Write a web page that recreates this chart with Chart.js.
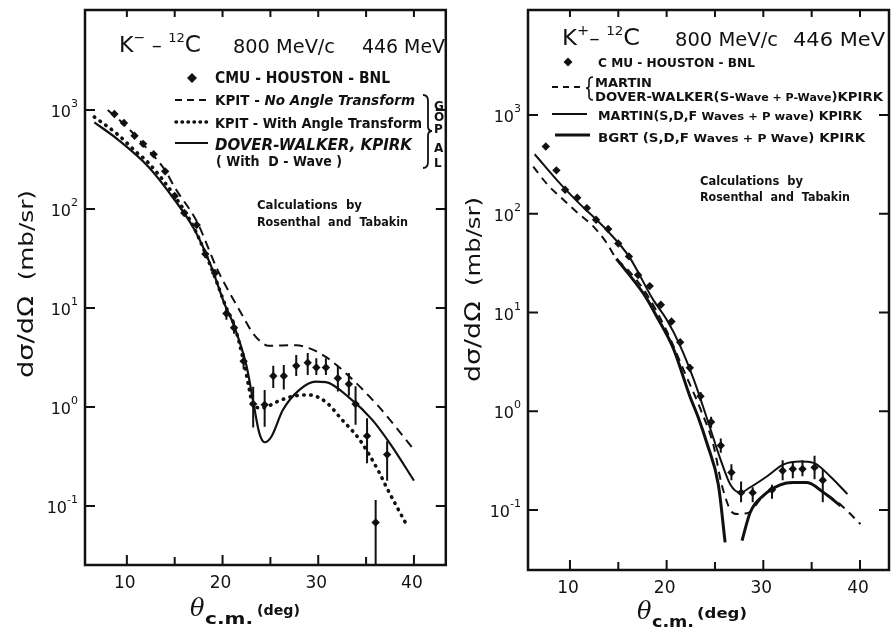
<!DOCTYPE html>
<html>
<head>
<meta charset="utf-8">
<script src="https://cdn.jsdelivr.net/npm/chart.js@4.4.0/dist/chart.umd.min.js"></script>
<style>
  html, body { margin: 0; padding: 0; background: #fff; }
  #wrap { position: relative; width: 895px; height: 629px; overflow: hidden; }
  #left { position: absolute; left: 0; top: 0; }
  #right { position: absolute; left: 450px; top: 0; }
</style>
</head>
<body>
<div id="wrap">
  <canvas id="left" width="450" height="629"></canvas>
  <canvas id="right" width="445" height="629"></canvas>
</div>
<script>
// ---- K- 12C : CMU-HOUSTON-BNL data (deg, mb/sr)
var leftAngle = [8.7, 9.7, 10.8, 11.7, 12.8, 14.0, 15.0, 16.0, 17.3, 18.2, 19.2, 20.4, 21.2, 22.2, 23.2, 24.4, 25.3, 26.4, 27.7, 28.9, 29.8, 30.8, 32.05, 33.2, 33.9, 35.1, 36.0, 37.2];
var leftSigma = [910, 740, 550, 455, 357, 240, 135, 91, 69, 35, 22.5, 8.8, 6.3, 2.9, 1.07, 1.05, 2.05, 2.05, 2.6, 2.8, 2.5, 2.5, 1.95, 1.7, 1.07, 0.51, 0.068, 0.33];
var leftErrLo = [860, 700, 520, 430, 337, 225, 126, 85, 64, 32, 20.5, 7.6, 5.5, 2.4, 0.62, 0.63, 1.55, 1.5, 2.05, 2.1, 2.1, 2.1, 1.43, 1.3, 0.66, 0.27, 0.02, 0.18];
var leftErrHi = [960, 780, 580, 480, 377, 255, 144, 97, 74, 38, 24.5, 10.2, 7.2, 3.5, 1.6, 1.48, 2.6, 2.65, 3.35, 3.5, 3.1, 3.1, 2.6, 2.2, 1.62, 0.77, 0.115, 0.45];

// KPIT - no angle transform (dashed)
var leftNoTransAngle = [8.0, 9.7, 11.7, 14.0, 15.0, 17.3, 19.5, 21.9, 23.2, 24.2, 24.8, 27.7, 29.1, 30.8, 33.2, 36.35, 40.0];
var leftNoTransSigma = [1000, 720, 450, 245, 165, 75, 24, 9, 5.5, 4.4, 4.15, 4.2, 3.9, 3.2, 2.05, 1.0, 0.37];
// KPIT - with angle transform (dotted)
var leftWithTransAngle = [6.6, 9.0, 11.2, 12.0, 15.0, 17.0, 19.0, 20.4, 21.2, 22.2, 22.8, 23.15, 24.0, 24.6, 25.6, 27.7, 29.1, 30.8, 32.5, 34.3, 36.35, 37.05, 39.1];
var leftWithTransSigma = [850, 570, 360, 310, 135, 65, 23, 10, 6.8, 2.9, 1.5, 1.05, 0.98, 1.0, 1.12, 1.3, 1.32, 1.12, 0.74, 0.47, 0.22, 0.16, 0.068];
// Dover-Walker, KPIRK with D-wave (solid)
var leftDoverAngle = [6.6, 9.1, 12.2, 15.0, 17.1, 18.8, 20.2, 21.1, 22.5, 23.3, 23.85, 24.4, 25.1, 26.3, 28.0, 29.75, 30.8, 33.2, 35.65, 37.7, 40.0];
var leftDoverSigma = [750, 500, 270, 123, 61, 26.5, 11, 7, 2.6, 1.0, 0.54, 0.44, 0.5, 0.93, 1.48, 1.8, 1.78, 1.25, 0.74, 0.40, 0.18];

// ---- K+ 12C data
var rightAngle = [7.5, 8.6, 9.5, 10.75, 11.75, 12.7, 13.95, 15.0, 16.1, 17.05, 18.25, 19.4, 20.5, 21.4, 22.4, 23.5, 24.6, 25.6, 26.7, 27.7, 28.9, 30.9, 32.0, 33.05, 34.05, 35.3, 36.15];
var rightSigma = [480, 275, 175, 145, 114, 87, 70, 50, 37, 24, 18.5, 12, 8.1, 5.0, 2.75, 1.42, 0.78, 0.45, 0.24, 0.15, 0.15, 0.16, 0.25, 0.26, 0.26, 0.27, 0.20];
var rightErrLo = [455, 262, 166, 138, 108, 83, 66, 47, 35, 22.7, 17.5, 11.3, 7.6, 4.6, 2.5, 1.27, 0.68, 0.38, 0.20, 0.12, 0.12, 0.13, 0.20, 0.21, 0.22, 0.205, 0.12];
var rightErrHi = [505, 288, 184, 152, 120, 91, 74, 53, 39, 25.3, 19.5, 12.7, 8.6, 5.4, 3.0, 1.57, 0.88, 0.53, 0.29, 0.195, 0.17, 0.18, 0.32, 0.31, 0.32, 0.355, 0.26];

// Martin / Dover-Walker (S-wave + P-wave) KPIRK (dashed)
var rightSPAngle = [6.2, 7.7, 9.1, 10.8, 12.55, 13.8, 14.8, 16.0, 18.0, 20.0, 22.0, 23.5, 24.85, 25.7, 26.6, 27.3, 28.0, 28.65, 30.0, 31.75, 33.1, 34.5, 36.25, 38.0, 40.05];
var rightSPSigma = [300, 196, 145, 102, 72, 50.5, 35, 27, 15, 6.5, 2.3, 1.05, 0.45, 0.18, 0.10, 0.091, 0.092, 0.096, 0.14, 0.18, 0.19, 0.19, 0.15, 0.113, 0.072];
// Martin (S,D,F waves + P wave) KPIRK (thin solid)
var rightMartinAngle = [6.35, 9.1, 10.8, 13.95, 16.1, 18.6, 20.0, 21.4, 22.8, 24.2, 25.55, 26.6, 27.6, 28.65, 30.4, 32.1, 33.8, 35.2, 36.9, 38.7];
var rightMartinSigma = [400, 196, 132, 66, 37, 13.5, 8.5, 4.6, 2.1, 0.83, 0.33, 0.18, 0.15, 0.17, 0.22, 0.29, 0.31, 0.30, 0.22, 0.145];
// BGRT (S,D,F waves + P wave) KPIRK (thick solid), two branches
var rightBgrtAngleA = [14.8, 16.0, 17.75, 19.0, 20.7, 22.4, 23.3, 24.15, 25.35, 26.05];
var rightBgrtSigmaA = [35, 25, 14.8, 9, 4.3, 1.42, 0.85, 0.48, 0.18, 0.047];
var rightBgrtAngleB = [27.8, 28.65, 30.0, 31.75, 33.1, 34.5, 36.25, 38.0];
var rightBgrtSigmaB = [0.049, 0.095, 0.14, 0.18, 0.19, 0.19, 0.15, 0.11];

var decadeTicks = [0.1, 1, 10, 100, 1000];
var decadeExp = ['-1', '0', '1', '2', '3'];
var xMajorTicks = [10, 20, 30, 40];
var xMinorTicks = [15, 25, 35];
var xTopTicks = [10, 15, 20, 25, 30, 35, 40];

var INK = '#111';

function pts(xs, ys) {
  return xs.map(function(x, i) { return { x: x, y: ys[i] }; });
}

function rich(ctx, parts, x, y, width) {
  var total = 0;
  parts.forEach(function(p) { ctx.font = p.f; total += ctx.measureText(p.t).width; });
  var k = width ? width / total : 1;
  ctx.save();
  ctx.translate(x, y);
  ctx.scale(k, 1);
  var cx = 0;
  parts.forEach(function(p) {
    ctx.font = p.f;
    ctx.fillText(p.t, cx, p.dy || 0);
    cx += ctx.measureText(p.t).width;
  });
  ctx.restore();
  return total * k;
}

function sampleLine(ctx, x1, x2, y, style) {
  ctx.save();
  ctx.strokeStyle = INK;
  ctx.lineWidth = style.w;
  ctx.setLineDash(style.dash || []);
  ctx.lineCap = style.cap || 'butt';
  ctx.beginPath();
  ctx.moveTo(x1, y);
  ctx.lineTo(x2, y);
  ctx.stroke();
  ctx.restore();
}

function diamond(ctx, x, y, r) {
  ctx.beginPath();
  ctx.moveTo(x, y - r); ctx.lineTo(x + r, y); ctx.lineTo(x, y + r); ctx.lineTo(x - r, y);
  ctx.closePath();
  ctx.fill();
}

// frame, ticks, tick labels, axis titles, error bars
function framePlugin(p) {
  return {
    id: 'frame',
    afterDatasetsDraw: function(chart) {
      var ctx = chart.ctx, a = chart.chartArea;
      var xs = chart.scales.x, ys = chart.scales.y;
      ctx.save();
      // error bars
      ctx.strokeStyle = INK;
      ctx.lineWidth = 2;
      ctx.beginPath();
      p.angle.forEach(function(x, i) {
        var px = xs.getPixelForValue(x);
        var y1 = Math.min(a.bottom, ys.getPixelForValue(p.lo[i]));
        var y2 = Math.max(a.top, ys.getPixelForValue(p.hi[i]));
        ctx.moveTo(px, y1); ctx.lineTo(px, y2);
      });
      ctx.stroke();
      // frame
      ctx.lineWidth = 2.5;
      ctx.strokeRect(a.left, a.top, a.right - a.left, a.bottom - a.top);
      ctx.lineWidth = 2;
      ctx.beginPath();
      xMajorTicks.forEach(function(v) {
        var px = xs.getPixelForValue(v);
        ctx.moveTo(px, a.bottom); ctx.lineTo(px, a.bottom - 10);
      });
      xMinorTicks.forEach(function(v) {
        var px = xs.getPixelForValue(v);
        ctx.moveTo(px, a.bottom); ctx.lineTo(px, a.bottom - 8);
      });
      xTopTicks.forEach(function(v) {
        var px = xs.getPixelForValue(v);
        ctx.moveTo(px, a.top); ctx.lineTo(px, a.top + 7);
      });
      decadeTicks.forEach(function(v) {
        var py = ys.getPixelForValue(v);
        ctx.moveTo(a.left, py); ctx.lineTo(a.left + 10, py);
        ctx.moveTo(a.right, py); ctx.lineTo(a.right - 10, py);
      });
      ctx.stroke();
      // tick labels
      ctx.fillStyle = INK;
      ctx.textBaseline = 'alphabetic';
      xMajorTicks.forEach(function(v) {
        var px = xs.getPixelForValue(v);
        ctx.font = '17px "DejaVu Sans"';
        var w = ctx.measureText(String(v)).width;
        ctx.fillText(String(v), px - w / 2 - 2, a.bottom + p.xLabelDy);
      });
      decadeTicks.forEach(function(v, i) {
        var py = ys.getPixelForValue(v);
        var parts = [{ t: '10', f: '16px "DejaVu Sans"' }, { t: decadeExp[i], f: '11px "DejaVu Sans"', dy: -10 }];
        var total = 0;
        parts.forEach(function(q) { ctx.font = q.f; total += ctx.measureText(q.t).width; });
        rich(ctx, parts, a.left - 7 - total, py + 7);
      });
      // x title
      rich(ctx, [{ t: 'θ', f: 'italic 24px "DejaVu Serif"' }], p.thetaX, p.thetaY);
      rich(ctx, [{ t: 'c.m.', f: 'bold 16px "DejaVu Sans"' }], p.thetaX + 15, p.thetaY + 8, p.cmW);
      rich(ctx, [{ t: '(deg)', f: 'bold 14px "DejaVu Sans"' }], p.degX, p.thetaY - 1, p.degW);
      // y title
      ctx.save();
      ctx.translate(p.yTitleX, p.yTitleBottom);
      ctx.rotate(-Math.PI / 2);
      ctx.textBaseline = 'middle';
      rich(ctx, [{ t: 'dσ/dΩ', f: '21px "DejaVu Sans"' }, { t: '  (mb/sr)', f: '19px "DejaVu Sans"' }], 0, 0, p.yTitleLen);
      ctx.restore();
      ctx.restore();
      p.extra(ctx);
    }
  };
}

function baseOptions(xmin, xmax, ymin, ymax, pad) {
  return {
    responsive: false,
    animation: false,
    devicePixelRatio: 1,
    layout: { padding: pad },
    plugins: { legend: { display: false }, tooltip: { enabled: false } },
    scales: {
      x: { type: 'linear', min: xmin, max: xmax, display: false },
      y: { type: 'logarithmic', min: ymin, max: ymax, display: false }
    }
  };
}

function curve(data, width, dash, cap) {
  return {
    type: 'line', data: data, borderColor: INK, borderWidth: width,
    borderDash: dash || [], borderCapStyle: cap || 'butt', pointRadius: 0,
    fill: false, cubicInterpolationMode: 'monotone'
  };
}

function dataSet(data) {
  return {
    type: 'scatter', data: data, pointStyle: 'rectRot', pointRadius: 4.2,
    backgroundColor: INK, borderColor: INK, borderWidth: 0, showLine: false
  };
}

// ---------- left panel : K- 12C
new Chart(document.getElementById('left'), {
  type: 'scatter',
  data: {
    datasets: [
      curve(pts(leftNoTransAngle, leftNoTransSigma), 2, [9, 6]),
      curve(pts(leftWithTransAngle, leftWithTransSigma), 3.6, [0.5, 6.5], 'round'),
      curve(pts(leftDoverAngle, leftDoverSigma), 2.2),
      dataSet(pts(leftAngle, leftSigma))
    ]
  },
  options: baseOptions(5.625, 43.33, 0.0253, 10233, { left: 85, top: 10, right: 3, bottom: 64 }),
  plugins: [framePlugin({
    angle: leftAngle, lo: leftErrLo, hi: leftErrHi,
    xLabelDy: 23, thetaX: 190, thetaY: 616, cmW: 48, degX: 257, degW: 43,
    yTitleX: 28, yTitleBottom: 378, yTitleLen: 188,
    extra: function(ctx) {
      ctx.save();
      ctx.fillStyle = INK;
      ctx.textBaseline = 'alphabetic';
      rich(ctx, [
        { t: 'K', f: '22px "DejaVu Sans"' },
        { t: '−', f: '14px "DejaVu Sans"', dy: -10 },
        { t: ' – ', f: '20px "DejaVu Sans"' },
        { t: '12', f: '13px "DejaVu Sans"', dy: -10 },
        { t: 'C', f: '23px "DejaVu Sans"' }
      ], 119, 52, 82);
      rich(ctx, [{ t: '800 MeV/c', f: '19px "DejaVu Sans"' }], 233, 53, 102);
      rich(ctx, [{ t: '446 MeV', f: '19px "DejaVu Sans"' }], 362, 53, 83);
      diamond(ctx, 192, 78, 5);
      rich(ctx, [{ t: 'CMU - HOUSTON - BNL', f: 'bold 15px "DejaVu Sans"' }], 215, 83, 175);
      sampleLine(ctx, 175, 208, 100, { w: 2, dash: [7, 5] });
      rich(ctx, [{ t: 'KPIT - ', f: 'bold 14px "DejaVu Sans"' }, { t: 'No Angle Transform', f: 'italic bold 14px "DejaVu Sans"' }], 215, 105, 200);
      sampleLine(ctx, 176, 208, 122, { w: 3.5, dash: [0.5, 5.5], cap: 'round' });
      rich(ctx, [{ t: 'KPIT - With Angle Transform', f: 'bold 14px "DejaVu Sans"' }], 215, 128, 207);
      sampleLine(ctx, 175, 208, 143, { w: 2 });
      rich(ctx, [{ t: 'DOVER-WALKER, KPIRK', f: 'italic bold 15px "DejaVu Sans"' }], 215, 150, 197);
      rich(ctx, [{ t: '( With  D - Wave )', f: 'bold 14px "DejaVu Sans"' }], 216, 166, 126);
      // bracket
      ctx.strokeStyle = INK;
      ctx.lineWidth = 1.8;
      ctx.beginPath();
      ctx.moveTo(423, 95);
      ctx.quadraticCurveTo(428, 95, 428, 101);
      ctx.lineTo(428, 126);
      ctx.quadraticCurveTo(428, 131, 432, 131);
      ctx.quadraticCurveTo(428, 131, 428, 136);
      ctx.lineTo(428, 162);
      ctx.quadraticCurveTo(428, 168, 423, 168);
      ctx.stroke();
      var gopal = ['G', 'O', 'P', 'A', 'L'];
      var gy = [110, 121, 133, 152, 167];
      ctx.font = 'bold 12px "DejaVu Sans"';
      gopal.forEach(function(c, i) { ctx.fillText(c, 434, gy[i]); });
      rich(ctx, [{ t: 'Calculations  by', f: 'bold 12px "DejaVu Sans"' }], 257, 209, 105);
      rich(ctx, [{ t: 'Rosenthal  and  Tabakin', f: 'bold 12px "DejaVu Sans"' }], 257, 226, 151);
      ctx.restore();
    }
  })]
});

// ---------- right panel : K+ 12C
new Chart(document.getElementById('right'), {
  type: 'scatter',
  data: {
    datasets: [
      curve(pts(rightSPAngle, rightSPSigma), 2, [8, 6]),
      curve(pts(rightMartinAngle, rightMartinSigma), 2),
      curve(pts(rightBgrtAngleA, rightBgrtSigmaA), 3),
      curve(pts(rightBgrtAngleB, rightBgrtSigmaB), 3),
      dataSet(pts(rightAngle, rightSigma))
    ]
  },
  options: baseOptions(5.66, 43.0, 0.0247, 11560, { left: 78, top: 10, right: 6, bottom: 59 }),
  plugins: [framePlugin({
    angle: rightAngle, lo: rightErrLo, hi: rightErrHi,
    xLabelDy: 23, thetaX: 187, thetaY: 619, cmW: 42, degX: 247, degW: 50,
    yTitleX: 25, yTitleBottom: 382, yTitleLen: 185,
    extra: function(ctx) {
      ctx.save();
      ctx.fillStyle = INK;
      ctx.textBaseline = 'alphabetic';
      rich(ctx, [
        { t: 'K', f: '22px "DejaVu Sans"' },
        { t: '+', f: '14px "DejaVu Sans"', dy: -10 },
        { t: '– ', f: '20px "DejaVu Sans"' },
        { t: '12', f: '13px "DejaVu Sans"', dy: -10 },
        { t: 'C', f: '23px "DejaVu Sans"' }
      ], 112, 45, 78);
      rich(ctx, [{ t: '800 MeV/c', f: '19px "DejaVu Sans"' }], 225, 46, 103);
      rich(ctx, [{ t: '446 MeV', f: '19px "DejaVu Sans"' }], 343, 46, 92);
      diamond(ctx, 118, 62, 4.5);
      rich(ctx, [{ t: 'C MU - HOUSTON - BNL', f: 'bold 12px "DejaVu Sans"' }], 148, 67, 157);
      sampleLine(ctx, 102, 133, 87, { w: 2, dash: [6, 5] });
      ctx.strokeStyle = INK;
      ctx.lineWidth = 1.6;
      ctx.beginPath();
      ctx.moveTo(143, 77);
      ctx.quadraticCurveTo(139, 77, 139, 81);
      ctx.lineTo(139, 86);
      ctx.quadraticCurveTo(139, 88, 136, 88);
      ctx.quadraticCurveTo(139, 88, 139, 91);
      ctx.lineTo(139, 96);
      ctx.quadraticCurveTo(139, 100, 143, 100);
      ctx.stroke();
      rich(ctx, [{ t: 'MARTIN', f: 'bold 12px "DejaVu Sans"' }], 145, 87, 57);
      rich(ctx, [
        { t: 'DOVER-WALKER(S-', f: 'bold 12px "DejaVu Sans"' },
        { t: 'Wave + P-Wave', f: 'bold 10px "DejaVu Sans"' },
        { t: ')KPIRK', f: 'bold 12px "DejaVu Sans"' }
      ], 145, 101, 288);
      sampleLine(ctx, 102, 137, 114, { w: 2 });
      rich(ctx, [
        { t: 'MARTIN(S,D,F ', f: 'bold 12px "DejaVu Sans"' },
        { t: 'Waves + P wave', f: 'bold 11px "DejaVu Sans"' },
        { t: ') KPIRK', f: 'bold 12px "DejaVu Sans"' }
      ], 148, 120, 264);
      sampleLine(ctx, 105, 140, 135, { w: 3 });
      rich(ctx, [
        { t: 'BGRT (S,D,F ', f: 'bold 12px "DejaVu Sans"' },
        { t: 'Waves + P Wave', f: 'bold 11px "DejaVu Sans"' },
        { t: ') KPIRK', f: 'bold 12px "DejaVu Sans"' }
      ], 148, 142, 267);
      rich(ctx, [{ t: 'Calculations  by', f: 'bold 12px "DejaVu Sans"' }], 250, 185, 103);
      rich(ctx, [{ t: 'Rosenthal  and  Tabakin', f: 'bold 12px "DejaVu Sans"' }], 250, 201, 150);
      ctx.restore();
    }
  })]
});
</script>
</body>
</html>
